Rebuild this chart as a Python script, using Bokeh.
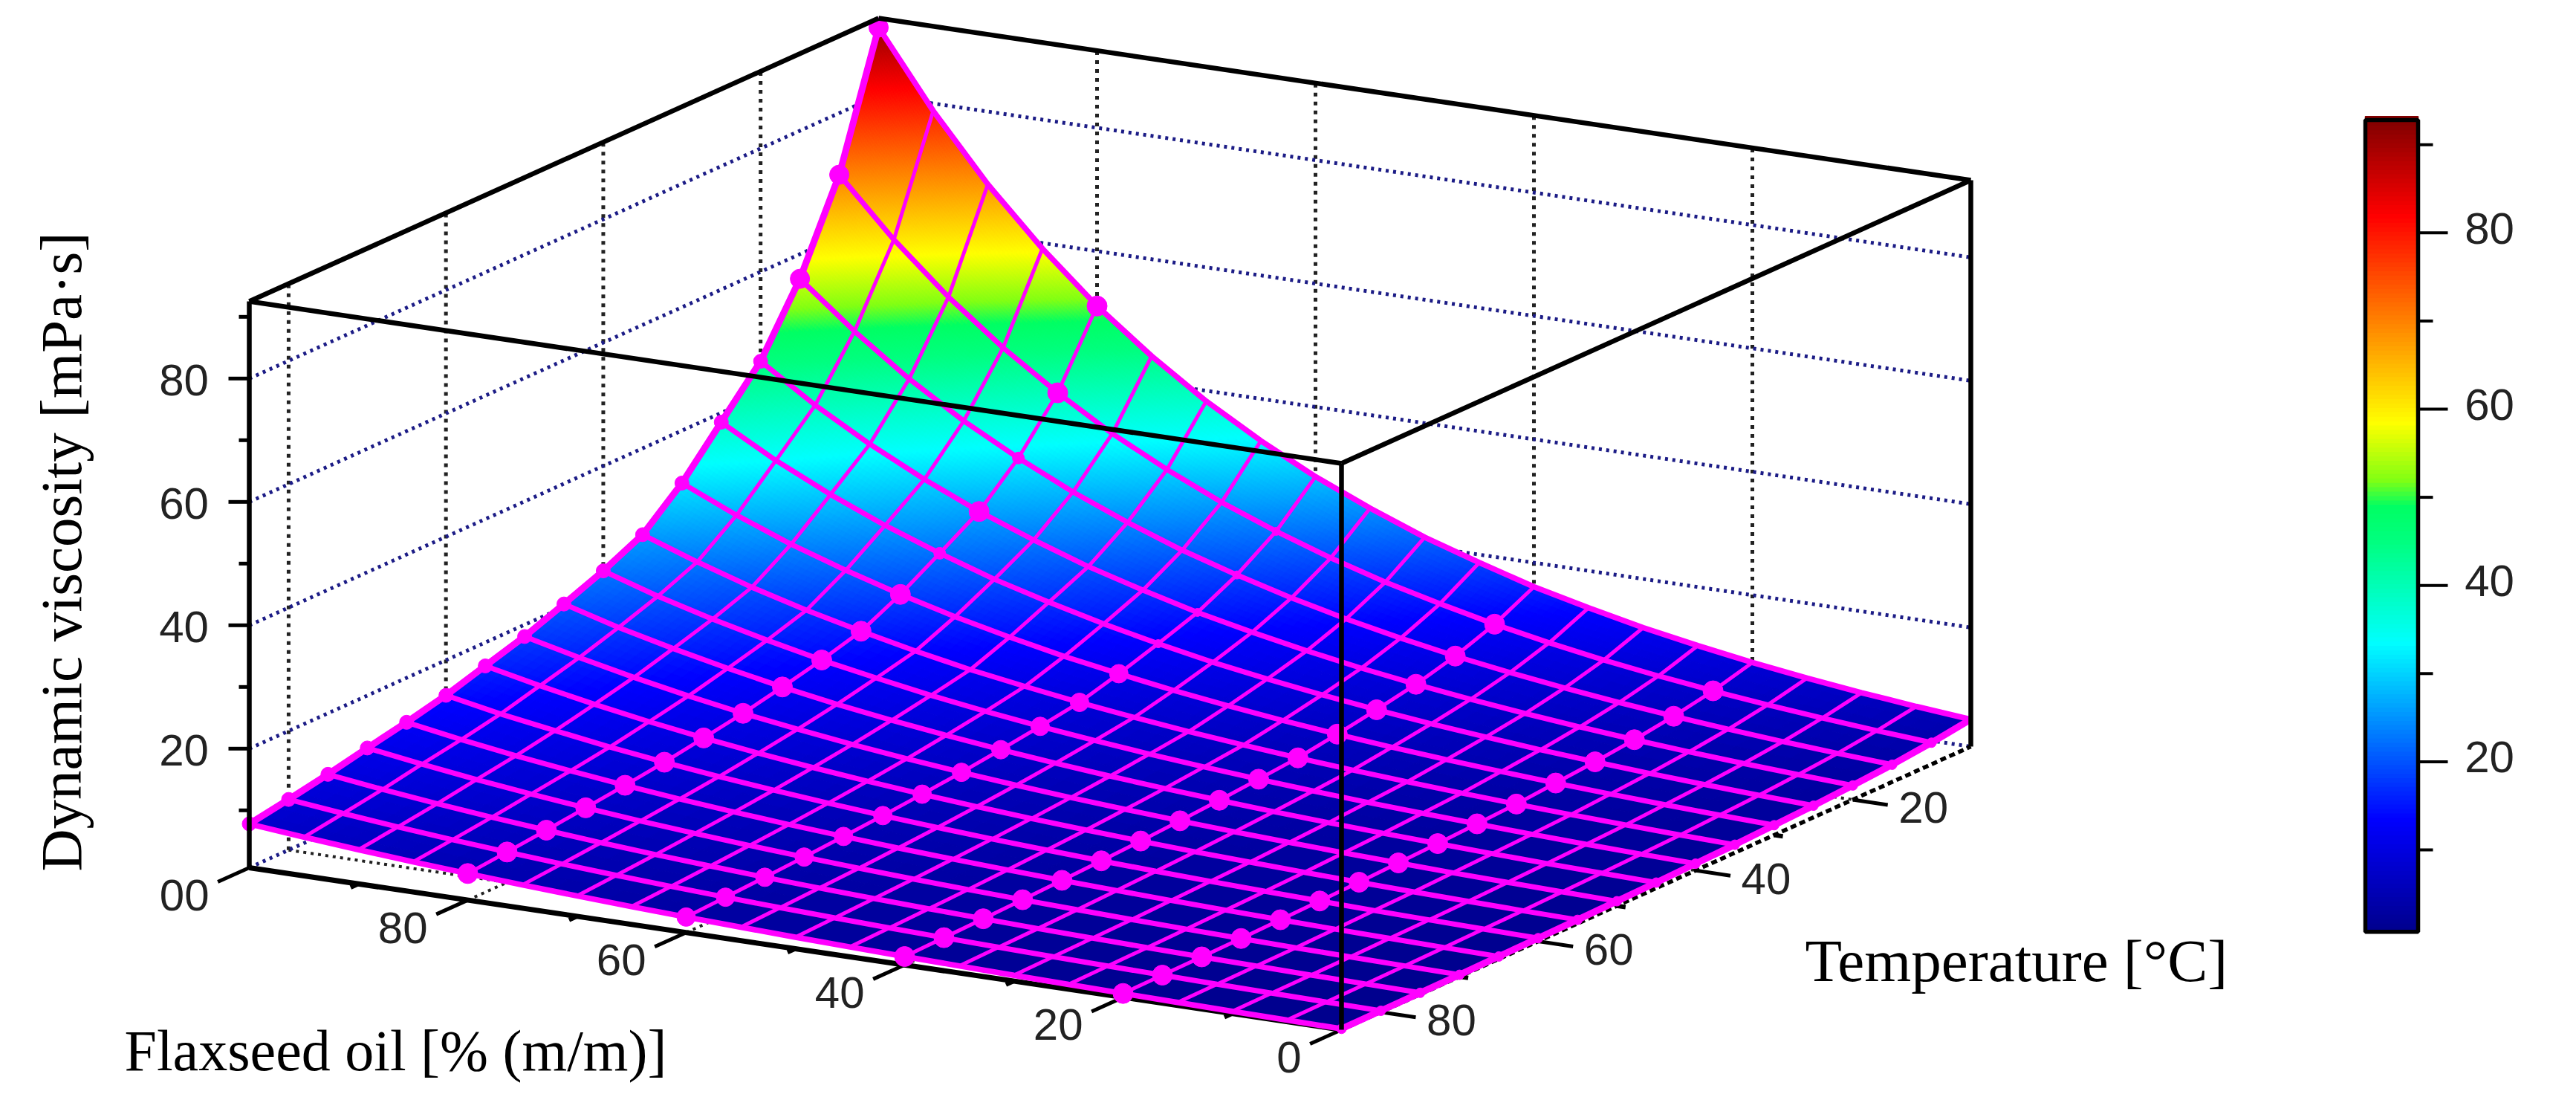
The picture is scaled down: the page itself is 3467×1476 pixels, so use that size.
import math
import numpy as np
from bokeh.plotting import figure
from bokeh.models import Range1d
from bokeh.core.properties import value
from bokeh.embed import file_html
from bokeh.resources import INLINE

# ---------- data ----------
flax_values = [0, 5, 10, 15, 20, 25, 30, 35, 40, 45, 50, 55, 60, 65, 70, 75, 80, 85, 90, 95, 100]
temp_values = [85, 80, 75, 70, 65, 60, 55, 50, 45, 40, 35, 30, 25, 20, 15, 10, 5]
viscosity = [
    [.85, .9, .95, 1, 1.1, 1.2, 1.3, 1.45, 1.6, 1.8, 2, 2.3, 2.6, 3, 3.5, 4.2, 5.1],
    [.95, 1.01, 1.07, 1.13, 1.24, 1.36, 1.47, 1.65, 1.82, 2.04, 2.27, 2.62, 2.97, 3.44, 4.02, 4.83, 5.89],
    [1.06, 1.13, 1.20, 1.28, 1.41, 1.54, 1.67, 1.87, 2.07, 2.32, 2.59, 2.99, 3.40, 3.94, 4.62, 5.56, 6.80],
    [1.19, 1.27, 1.35, 1.44, 1.59, 1.74, 1.90, 2.12, 2.35, 2.64, 2.94, 3.41, 3.89, 4.51, 5.31, 6.39, 7.85],
    [1.33, 1.43, 1.52, 1.63, 1.80, 1.97, 2.15, 2.41, 2.67, 3.0, 3.34, 3.88, 4.45, 5.17, 6.10, 7.35, 9.07],
    [1.48, 1.60, 1.71, 1.84, 2.04, 2.23, 2.44, 2.73, 3.03, 3.40, 3.80, 4.43, 5.09, 5.93, 7.01, 8.45, 10.5],
    [1.65, 1.79, 1.93, 2.08, 2.30, 2.53, 2.77, 3.10, 3.44, 3.86, 4.32, 5.05, 5.84, 6.79, 8.05, 9.72, 12.1],
    [1.85, 2.01, 2.17, 2.35, 2.6, 2.86, 3.14, 3.51, 3.91, 4.39, 4.91, 5.75, 6.68, 7.77, 9.24, 11.2, 14],
    [2.06, 2.25, 2.45, 2.66, 2.94, 3.23, 3.57, 3.98, 4.44, 4.99, 5.58, 6.55, 7.64, 8.9, 10.6, 12.9, 16.1],
    [2.3, 2.52, 2.75, 3, 3.32, 3.66, 4.05, 4.52, 5.04, 5.66, 6.34, 7.47, 8.74, 10.2, 12.2, 14.9, 18.7],
    [2.57, 2.83, 3.1, 3.39, 3.75, 4.14, 4.59, 5.12, 5.73, 6.43, 7.21, 8.51, 10, 11.7, 14, 17.1, 21.5],
    [2.88, 3.17, 3.49, 3.83, 4.24, 4.69, 5.21, 5.81, 6.51, 7.31, 8.2, 9.7, 11.4, 13.4, 16.1, 19.7, 24.9],
    [3.21, 3.56, 3.92, 4.33, 4.8, 5.31, 5.91, 6.59, 7.39, 8.3, 9.32, 11.1, 13.1, 15.3, 18.5, 22.7, 28.7],
    [3.59, 3.99, 4.42, 4.89, 5.42, 6.01, 6.7, 7.48, 8.4, 9.43, 10.6, 12.6, 15, 17.6, 21.2, 26.1, 33.2],
    [4.01, 4.48, 4.97, 5.53, 6.13, 6.8, 7.6, 8.49, 9.54, 10.7, 12, 14.4, 17.2, 20.1, 24.4, 30.1, 38.3],
    [4.48, 5.02, 5.59, 6.24, 6.93, 7.7, 8.62, 9.63, 10.8, 12.2, 13.7, 16.4, 19.6, 23.1, 28, 34.6, 44.3],
    [5.01, 5.63, 6.3, 7.06, 7.84, 8.71, 9.78, 10.9, 12.3, 13.8, 15.6, 18.7, 22.5, 26.4, 32.2, 39.9, 51.1],
    [5.59, 6.31, 7.08, 7.97, 8.86, 9.86, 11.1, 12.4, 14, 15.7, 17.7, 21.3, 25.7, 30.3, 36.9, 45.9, 59.1],
    [6.25, 7.08, 7.97, 9.01, 10, 11.2, 12.6, 14.1, 15.9, 17.8, 20.1, 24.2, 29.4, 34.7, 42.4, 52.8, 68.2],
    [6.98, 7.94, 8.97, 10.2, 11.3, 12.6, 14.3, 16, 18, 20.2, 22.9, 27.6, 33.6, 39.7, 48.8, 60.8, 78.8],
    [7.8, 8.9, 10.1, 11.5, 12.8, 14.3, 16.2, 18.1, 20.5, 23, 26, 31.5, 38.5, 45.5, 56, 70, 91],
]
measured_flax = [100, 80, 60, 40, 20, 0]
flax_ticks = [100, 80, 60, 40, 20, 0]
flax_labels = ["00", "80", "60", "40", "20", "0"]
flax_minor = [90, 70, 50, 30, 10]
temp_ticks = [20, 40, 60, 80]
temp_labels = ["20", "40", "60", "80"]
temp_minor = [30, 50, 70]
z_ticks = [20, 40, 60, 80]
z_labels = ["20", "40", "60", "80"]
z_minor = [10, 30, 50, 70, 90]
bar_ticks = [20, 40, 60, 80]
bar_labels = ["20", "40", "60", "80"]
bar_minor = [10, 30, 50, 70, 90]
colour_stops = [0.7, 13.5, 33.5, 45, 49, 52, 58.5, 82, 92.8]
colour_r = [0, 0, 0, 0, 0, 130, 255, 255, 130]
colour_g = [0, 0, 255, 255, 255, 255, 255, 0, 0]
colour_b = [140, 255, 255, 128, 100, 20, 0, 0, 0]

Z_MIN, Z_MAX = 0.7, 92.5
T_HI, T_LO = 85, 5

# ---------- oblique view of the box ----------
FX, FY = 1813, 1393
UX, UY = 343 - 1813, 1175 - 1393
VX, VY = 2660 - 1813, 1012 - 1393
ZK = 8.3

def proj(flax, temp, z):
    u = np.asarray(flax, float) / 100.0
    v = (T_HI - np.asarray(temp, float)) / (T_HI - T_LO)
    z = np.asarray(z, float)
    return FX + u * UX + v * VX, FY + u * UY + v * VY - (z - Z_MIN) * ZK

def colour_of(z):
    r = np.interp(z, colour_stops, colour_r)
    g = np.interp(z, colour_stops, colour_g)
    b = np.interp(z, colour_stops, colour_b)
    return "#%02x%02x%02x" % (int(r), int(g), int(b))

p = figure(width=3451, height=1460, output_backend="svg", toolbar_location=None,
           x_range=Range1d(8, 3459), y_range=Range1d(1468, 8),
           x_axis_type=None, y_axis_type=None, min_border=0, outline_line_color=None)
p.grid.visible = False

SERIF = value("Liberation Serif")
SANS = value("Liberation Sans")
BLUE = "#1c1c86"
BLACK = "#000000"

def seg(a, b, **kw):
    x, y = proj([a[0], b[0]], [a[1], b[1]], [a[2], b[2]])
    p.line(x, y, **kw)

# wall grid behind the surface
for f in [80, 60, 40, 20]:
    seg((f, T_LO, Z_MIN), (f, T_LO, Z_MAX), line_color="#222222", line_width=5, line_dash="5 7")
    seg((f, T_HI, Z_MIN), (f, T_LO, Z_MIN), line_color="#222222", line_width=4, line_dash="4 6")
for t in temp_ticks:
    seg((100, t, Z_MIN), (100, t, Z_MAX), line_color="#222222", line_width=5, line_dash="5 7")
    seg((100, t, Z_MIN), (0, t, Z_MIN), line_color="#222222", line_width=4, line_dash="4 6")
for z in z_ticks:
    seg((100, T_HI, z), (100, T_LO, z), line_color=BLUE, line_width=5, line_dash="4 6")
    seg((100, T_LO, z), (0, T_LO, z), line_color=BLUE, line_width=5, line_dash="4 6")
seg((100, T_HI, Z_MIN), (100, T_LO, Z_MIN), line_color=BLUE, line_width=5, line_dash="4 6")
seg((100, T_LO, Z_MIN), (0, T_LO, Z_MIN), line_color=BLUE, line_width=5, line_dash="4 6")

# base edges lie under the surface rim
seg((100, T_HI, Z_MIN), (0, T_HI, Z_MIN), line_color=BLACK, line_width=7)
seg((0, T_HI, Z_MIN), (0, T_LO, Z_MIN), line_color=BLACK, line_width=5.5, line_dash="8 5")

# ticks on base and on the vertical axis
for f in flax_ticks:
    seg((f, T_HI, Z_MIN), (f, T_HI + 4, Z_MIN), line_color=BLACK, line_width=5)
for f in flax_minor:
    seg((f, T_HI, Z_MIN), (f, T_HI + 1, Z_MIN), line_color=BLACK, line_width=6)
for t in temp_ticks:
    seg((0, t, Z_MIN), (-3.2, t, Z_MIN), line_color=BLACK, line_width=5)
for t in temp_minor:
    seg((0, t, Z_MIN), (-0.8, t, Z_MIN), line_color=BLACK, line_width=6)
ax0, ay0 = proj(100, T_HI, Z_MIN)
ax0, ay0 = float(ax0), float(ay0)
for z in z_ticks:
    yy = float(proj(100, T_HI, z)[1])
    p.line([ax0 - 28, ax0], [yy, yy], line_color=BLACK, line_width=5)
for z in z_minor:
    yy = float(proj(100, T_HI, z)[1])
    p.line([ax0 - 14, ax0], [yy, yy], line_color=BLACK, line_width=5)

# surface, painted from the back corner forwards
F = np.array(flax_values, float)
T = np.array(temp_values, float)
Z = np.array(viscosity, float)
xs, ys, cols = [], [], []
for i in range(len(F) - 2, -1, -1):
    for j in range(len(T) - 2, -1, -1):
        corner = Z[i:i + 2, j:j + 2]
        n = int(min(40, max(1, math.ceil((corner.max() - corner.min()) / 0.7))))
        lz = np.log(corner)
        for a in range(n - 1, -1, -1):
            for b in range(n - 1, -1, -1):
                sa = np.array([a, a + 1, a + 1, a]) / n
                sb = np.array([b, b, b + 1, b + 1]) / n
                ff = F[i] + sa * (F[i + 1] - F[i])
                tt = T[j] + sb * (T[j + 1] - T[j])
                zz = np.exp((1 - sa) * (1 - sb) * lz[0, 0] + sa * (1 - sb) * lz[1, 0]
                            + (1 - sa) * sb * lz[0, 1] + sa * sb * lz[1, 1])
                qx, qy = proj(ff, tt, zz)
                xs.append(qx.tolist())
                ys.append(qy.tolist())
                cols.append(colour_of(zz.mean()))
p.patches(xs, ys, fill_color=cols, line_color=cols, line_width=1.2)

MAG = "#ff00ff"
# measured points
for f in measured_flax:
    i = flax_values.index(f)
    mx, my = proj(np.full(len(T), f), T, Z[i])
    mx, my = np.asarray(mx), np.asarray(my)
    if f == 0:
        sizes = np.full(len(T), 13.0)
    elif f == 100:
        sizes = np.where(T <= 15, 26.0, 19.0)
    elif f == 80:
        sizes = np.where((T == 15) | (T == 25), 16.0, 27.0)
    elif f == 60:
        sizes = np.where(T <= 25, 11.0, 25.0)
    else:
        sizes = np.full(len(T), 27.0)
    keep = np.ones(len(T), bool) if f in (100, 80) else T > 5
    p.scatter(mx[keep], my[keep], size=sizes[keep], marker="circle", fill_color=MAG, line_color=MAG)

# mesh
for i, f in enumerate(flax_values):
    lx, ly = proj(np.full(len(T), f), T, Z[i])
    edge = i in (0, len(F) - 1)
    p.line(lx, ly, line_color=MAG, line_width=9 if edge else 5)
for j, t in enumerate(temp_values):
    lx, ly = proj(F, np.full(len(F), t), Z[:, j])
    edge = j in (0, len(T) - 1)
    p.line(lx, ly, line_color=MAG, line_width=7.5 if edge else 7)

# solid box edges
for a, b in [((100, T_HI, Z_MIN), (100, T_HI, Z_MAX)), ((0, T_LO, Z_MIN), (0, T_LO, Z_MAX)),
             ((100, T_HI, Z_MAX), (100, T_LO, Z_MAX)), ((100, T_LO, Z_MAX), (0, T_LO, Z_MAX)),
             ((100, T_HI, Z_MAX), (0, T_HI, Z_MAX)), ((0, T_HI, Z_MAX), (0, T_LO, Z_MAX)),
             ((0, T_HI, Z_MIN), (0, T_HI, Z_MAX))]:
    seg(a, b, line_color=BLACK, line_width=6.5)

# axis numbers
fx, fy = proj(flax_ticks, np.full(len(flax_ticks), T_HI), np.full(len(flax_ticks), Z_MIN))
p.text(fx - 54, fy + 37, text=flax_labels, text_font=SANS, text_font_size="60px", text_color="#222222",
       text_align="right", text_baseline="middle")
tx, ty = proj(np.zeros(len(temp_ticks)), temp_ticks, np.full(len(temp_ticks), Z_MIN))
p.text(tx + 95, ty + 11, text=temp_labels, text_font=SANS, text_font_size="60px", text_color="#222222",
       text_align="center", text_baseline="middle")
zx, zy = proj(np.full(len(z_ticks), 100), np.full(len(z_ticks), T_HI), z_ticks)
p.text(zx - 88, zy + 2, text=z_labels, text_font=SANS, text_font_size="60px", text_color="#222222",
       text_align="center", text_baseline="middle")

# axis titles
p.text([90], [750], text=["Dynamic viscosity [mPa·s]"], angle=math.pi / 2, text_font=SERIF,
       text_font_size="79px", text_color=BLACK, text_align="center", text_baseline="middle")
p.text([175], [1421], text=["Flaxseed oil [% (m/m)]"], text_font=SERIF, text_font_size="78px",
       text_color=BLACK, text_align="left", text_baseline="alphabetic")
p.text([2437], [1300], text=["Temperature [°C]"], text_font=SERIF, text_font_size="81px",
       text_color=BLACK, text_align="left", text_baseline="alphabetic")

# colour bar
BL, BR = 3191, 3262
def bar_y(z):
    return 1151 - (np.asarray(z, float) - 10) * 11.86
levels = np.arange(0.7, 92.8, 0.5)
bar_cols = [colour_of(v + 0.25) for v in levels]
p.quad(left=BL, right=BR, bottom=bar_y(levels), top=bar_y(levels + 0.5),
       fill_color=bar_cols, line_color=bar_cols, line_width=1.5)
by0, by1 = float(bar_y(0.7)), float(bar_y(92.8))
p.quad(left=[BL], right=[BR], bottom=[by0], top=[by1], fill_color=None, line_color=BLACK, line_width=5.5)
for z in bar_ticks:
    yy = float(bar_y(z))
    p.line([BR, BR + 40], [yy, yy], line_color=BLACK, line_width=4)
for z in bar_minor:
    yy = float(bar_y(z))
    p.line([BR, BR + 20], [yy, yy], line_color=BLACK, line_width=4)
p.text(np.full(len(bar_ticks), 3358), bar_y(bar_ticks) - 6, text=bar_labels, text_font=SANS,
       text_font_size="60px", text_color="#222222", text_align="center", text_baseline="middle")

open("out.html", "w").write(file_html(p, INLINE))
